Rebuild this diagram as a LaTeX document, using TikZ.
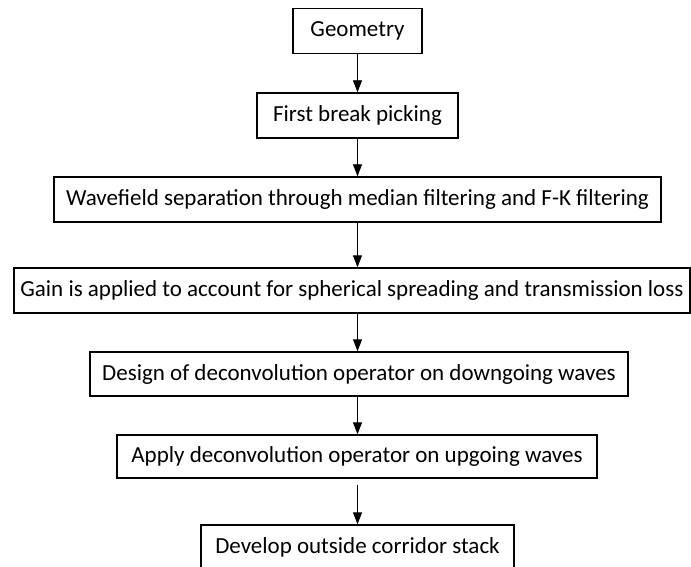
\documentclass[tikz,border=0pt]{standalone}
\usepackage{fontspec}
\setmainfont{Carlito}
\usetikzlibrary{arrows.meta}

\begin{document}
\begin{tikzpicture}[x=1pt, y=-1pt, >={Triangle[length=12pt,width=9pt]},
  font=\fontsize{23}{26}\selectfont,
  stage/.style={draw, line width=1.4pt, minimum height=45pt, inner sep=0pt},
  flow/.style={->, line width=0.9pt}]
\useasboundingbox (0,0) rectangle (691,567);
\node[stage, minimum width=129pt] (geo) at (357.5,31) {Geometry};
\node[stage, minimum width=201pt] (fb) at (357.5,115.5) {First break picking};
\node[stage, minimum width=607pt] (wf) at (357.5,199.5) {Wavefield separation through median filtering and F-K filtering};
\node[stage, minimum width=676pt] (gain) at (352,290.5) {Gain is applied to account for spherical spreading and transmission loss};
\node[stage, minimum width=538pt, minimum height=44pt] (des) at (359,374) {Design of deconvolution operator on downgoing waves};
\node[stage, minimum width=480pt, minimum height=43pt] (app) at (357,456.5) {Apply deconvolution operator on upgoing waves};
\node[stage, minimum width=313pt] (dev) at (357.5,547.5) {Develop outside corridor stack};
\draw[flow] (geo.south) -- (fb.north);
\draw[flow] (fb.south) -- (wf.north);
\draw[flow] (wf.south) -- (gain.north -| wf.south);
\draw[flow] (gain.south -| wf.south) -- (des.north -| wf.south);
\draw[flow] (des.south -| wf.south) -- (app.north -| wf.south);
\draw[flow, shorten <=6pt] (app.south -| wf.south) -- (dev.north -| wf.south);
\end{tikzpicture}
\end{document}
